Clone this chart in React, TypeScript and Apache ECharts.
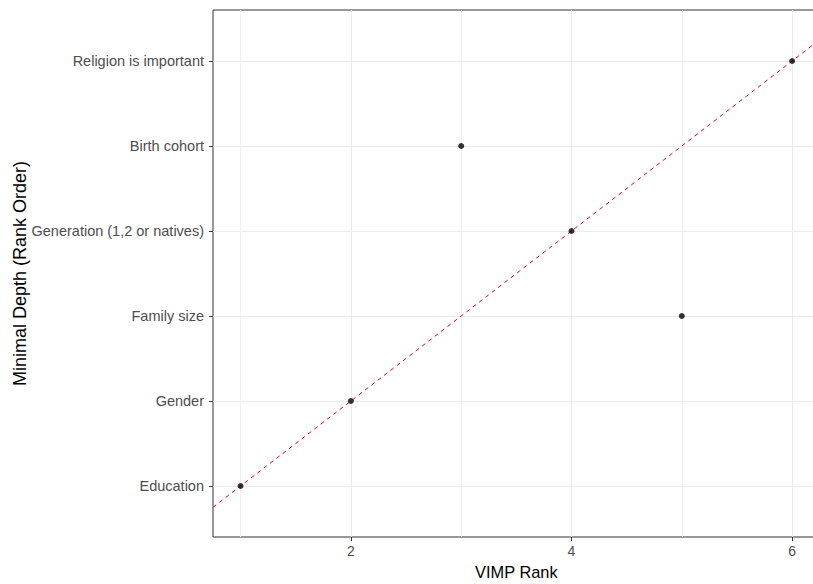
import React, { useEffect, useRef } from "react";
import * as echarts from "echarts";

// Minimal depth rank order (y position 1..6, bottom to top)
const depthCategories = [
  "Education",
  "Gender",
  "Family size",
  "Generation (1,2 or natives)",
  "Birth cohort",
  "Religion is important",
];
const depthRank = [1, 2, 3, 4, 5, 6];
// VIMP rank for each variable above
const vimpRank = [1, 2, 5, 4, 3, 6];

const xTickLabels = [2, 4, 6];
const xMinorGrid = [1, 3, 5];
const xRange = [0.75, 6.25];
const yRange = [0.4, 6.6];
// reference line y = x spanning the x range
const refLine = [
  [xRange[0], xRange[0]],
  [xRange[1], xRange[1]],
];

export default function App() {
  const ref = useRef<HTMLDivElement>(null);
  useEffect(() => {
    if (!ref.current) return;
    const chart = echarts.init(ref.current, null, { renderer: "svg" });
    const font = "Liberation Sans, Arial, sans-serif";
    chart.setOption({
      animation: false,
      backgroundColor: "#ffffff",
      grid: {
        left: 213,
        top: 10,
        width: 606.7,
        height: 527,
        show: true,
        borderColor: "#333333",
        borderWidth: 1,
        backgroundColor: "transparent",
        containLabel: false,
        outerBoundsMode: "none",
      },
      xAxis: [
        {
          type: "value",
          min: xRange[0],
          max: xRange[1],
          name: "VIMP Rank",
          nameLocation: "middle",
          nameGap: 27,
          nameMoveOverlap: false,
          nameTextStyle: { color: "#000", fontSize: 16.4, fontFamily: font },
          axisLine: { show: false },
          axisTick: {
            show: true,
            length: 4,
            customValues: xTickLabels,
            lineStyle: { color: "#333333" },
          },
          axisLabel: {
            customValues: xTickLabels,
            color: "#4d4d4d",
            fontSize: 14,
            fontFamily: font,
            margin: 7,
          },
          splitLine: { show: true, lineStyle: { color: "#ebebeb", width: 1 } },
        },
        {
          type: "value",
          min: xRange[0],
          max: xRange[1],
          position: "bottom",
          axisLine: { show: false },
          axisTick: { show: false, customValues: xMinorGrid },
          axisLabel: { show: false, customValues: xMinorGrid },
          splitLine: { show: true, lineStyle: { color: "#f0f0f0", width: 1 } },
        },
      ],
      yAxis: {
        type: "value",
        min: yRange[0],
        max: yRange[1],
        name: "Minimal Depth (Rank Order)",
        nameLocation: "middle",
        nameGap: 184,
        nameMoveOverlap: false,
        nameRotate: 90,
        nameTextStyle: { color: "#000", fontSize: 18, fontFamily: font },
        axisLine: { show: false },
        axisTick: {
          show: true,
          length: 4,
          customValues: depthRank,
          lineStyle: { color: "#333333" },
        },
        axisLabel: {
          customValues: depthRank,
          color: "#4d4d4d",
          fontSize: 14.5,
          fontFamily: font,
          margin: 9,
          formatter: (v: number) => depthCategories[Math.round(v) - 1] ?? "",
        },
        splitLine: { show: true, lineStyle: { color: "#ebebeb", width: 1 } },
      },
      series: [
        {
          type: "line",
          xAxisIndex: 0,
          data: refLine,
          showSymbol: false,
          symbol: "none",
          lineStyle: { color: "#e8001c", width: 1, type: [4, 4] },
          silent: true,
          z: 2,
        },
        {
          type: "scatter",
          xAxisIndex: 0,
          data: vimpRank.map((v, i) => [v, depthRank[i]]),
          symbol: "circle",
          symbolSize: 6,
          itemStyle: { color: "#000000" },
          z: 3,
        },
      ],
    });
    return () => chart.dispose();
  }, []);
  return (
    <div
      ref={ref}
      style={{ position: "fixed", left: 0, top: 0, width: 830, height: 584 }}
    />
  );
}
